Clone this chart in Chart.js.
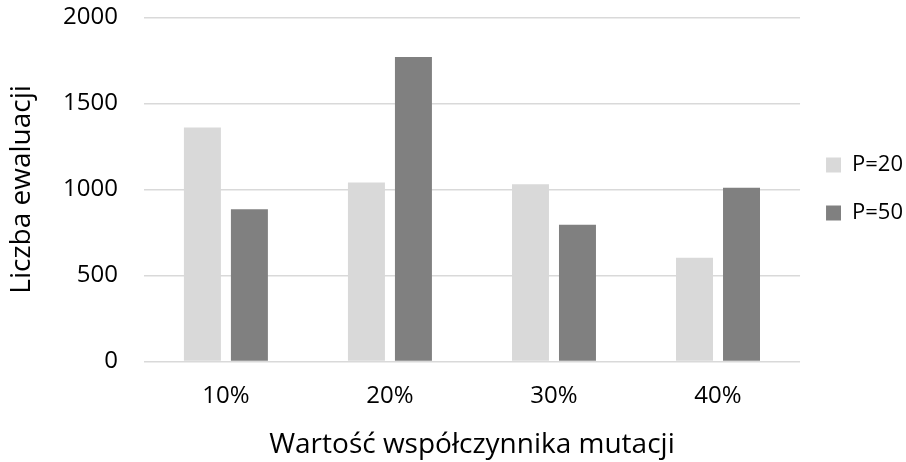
<!DOCTYPE html>
<html>
<head>
<meta charset="utf-8">
<script src="https://cdn.jsdelivr.net/npm/chart.js@4"></script>
<style>
  html, body { margin: 0; padding: 0; background: #fff; }
  #wrap { width: 906px; height: 462px; }
</style>
</head>
<body>
<div id="wrap"><canvas id="mutationChart"></canvas></div>
<script>
const categories = ["10%", "20%", "30%", "40%"];
const seriesNames = ["P=20", "P=50"];
const p20Values = [1360, 1040, 1030, 603];
const p50Values = [885, 1770, 795, 1010];
const yTicks = [0, 500, 1000, 1500, 2000];

const fontFamily = "'Open Sans', 'Noto Sans', sans-serif";
const textColor = "#000000";

const canv = document.getElementById("mutationChart");
new Chart(canv, {
  type: "bar",
  data: {
    labels: categories,
    datasets: [
      {
        label: seriesNames[0],
        data: p20Values,
        backgroundColor: "#d9d9d9",
        barPercentage: 0.787,
        categoryPercentage: 0.573,
      },
      {
        label: seriesNames[1],
        data: p50Values,
        backgroundColor: "#808080",
        barPercentage: 0.787,
        categoryPercentage: 0.573,
      },
    ],
  },
  options: {
    responsive: true,
    maintainAspectRatio: false,
    animation: false,
    layout: {
      padding: { top: 0, right: -7, left: 0, bottom: 0 },
    },
    plugins: {
      tooltip: { enabled: false },
      legend: {
        position: "right",
        align: "start",
        // empty title only pushes the two items down next to the bars
        title: {
          display: true,
          text: "",
          font: { size: 10 },
          padding: { top: 116, bottom: 0 },
        },
        labels: {
          boxWidth: 15,
          boxHeight: 15,
          padding: 26,
          color: textColor,
          font: { family: fontFamily, size: 22 },
        },
      },
    },
    scales: {
      x: {
        grid: { display: false },
        border: { display: false },
        ticks: {
          color: textColor,
          padding: 12.6,
          font: { family: fontFamily, size: 24 },
        },
        title: {
          display: true,
          text: "Wartość współczynnika mutacji",
          color: textColor,
          padding: { top: 5, bottom: 0 },
          font: { family: fontFamily, size: 28 },
        },
      },
      y: {
        min: 0,
        max: 2000,
        afterBuildTicks: (axis) => {
          axis.ticks = yTicks.map((v) => ({ value: v }));
        },
        grid: {
          color: "#d9d9d9",
          lineWidth: 1.5,
          drawTicks: true,
          tickLength: 23,
          tickColor: "rgba(0,0,0,0)",
        },
        border: { display: false },
        ticks: {
          color: textColor,
          padding: 3,
          font: { family: fontFamily, size: 24 },
          callback: (v) => String(v),
        },
        title: {
          display: true,
          text: "Liczba ewaluacji",
          color: textColor,
          padding: { top: 5, bottom: 21.4 },
          font: { family: fontFamily, size: 28 },
        },
      },
    },
  },
});
</script>
</body>
</html>
